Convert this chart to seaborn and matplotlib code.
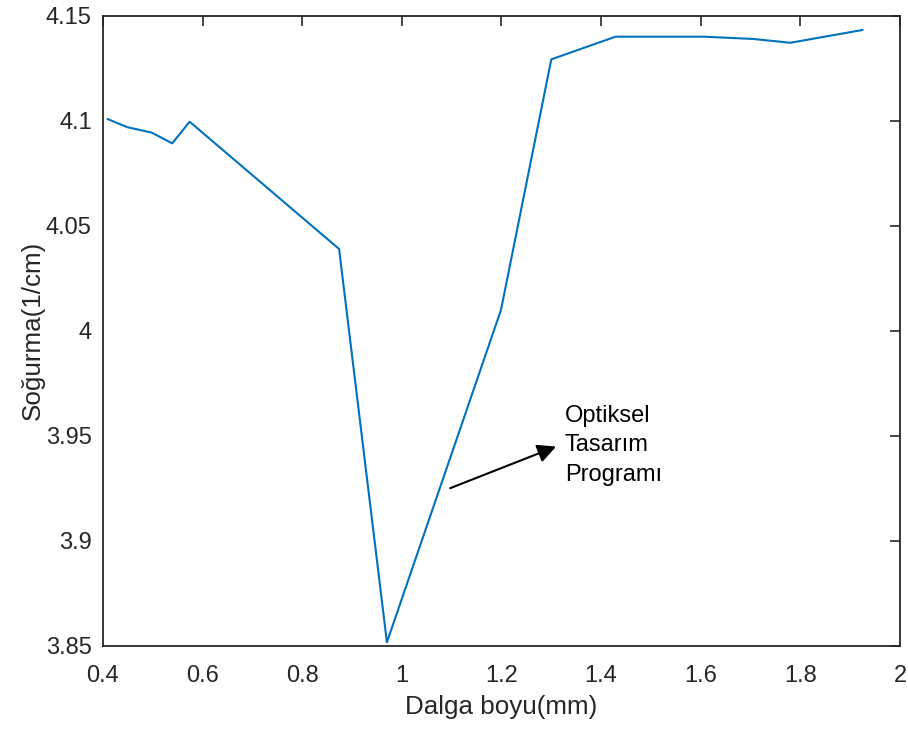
import matplotlib
matplotlib.use("Agg")
import matplotlib.pyplot as plt
import seaborn as sns
import pandas as pd

# values
wavelength = [0.409, 0.449, 0.498, 0.539, 0.574, 0.874, 0.970, 1.199, 1.300,
              1.429, 1.606, 1.706, 1.780, 1.925]
absorption = [4.1008, 4.0969, 4.0943, 4.0892, 4.0995, 4.0389, 3.8516, 4.0099,
              4.1292, 4.1400, 4.1400, 4.1389, 4.1371, 4.1432]
x_ticks = [0.4, 0.6, 0.8, 1.0, 1.2, 1.4, 1.6, 1.8, 2.0]
x_tick_labels = ["0.4", "0.6", "0.8", "1", "1.2", "1.4", "1.6", "1.8", "2"]
y_ticks = [3.85, 3.9, 3.95, 4.0, 4.05, 4.1, 4.15]
y_tick_labels = ["3.85", "3.9", "3.95", "4", "4.05", "4.1", "4.15"]
note_text = "Optiksel\nTasarım\nProgramı"

df = pd.DataFrame({"wl": wavelength, "abs": absorption})

sns.set_style("white")
plt.rcParams["font.family"] = ["Liberation Sans", "DejaVu Sans"]

fig = plt.figure(figsize=(9.08, 7.29), dpi=100)
ax = fig.add_axes([0.1134, 0.1143, 0.8778, 0.8642])

sns.lineplot(data=df, x="wl", y="abs", ax=ax, color="#0072BD", linewidth=1.5,
             sort=False)

ax.set_xlim(0.4, 2.0)
ax.set_ylim(3.85, 4.15)
ax.set_xticks(x_ticks)
ax.set_xticklabels(x_tick_labels)
ax.set_yticks(y_ticks)
ax.set_yticklabels(y_tick_labels)

ax.tick_params(direction="in", length=7, width=1.2, top=True, right=True,
               labelsize=17, colors="#262626")
ax.tick_params(axis="x", pad=14)
ax.tick_params(axis="y", pad=8)
for s in ax.spines.values():
    s.set_visible(True)
    s.set_color("#262626")
    s.set_linewidth(1.3)

ax.set_xlabel("Dalga boyu(mm)", fontsize=18.7, color="#262626", labelpad=6)
ax.set_ylabel("Soğurma(1/cm)", fontsize=18.7, color="#262626", labelpad=0.5)

ax.annotate("", xy=(1.3096, 3.9448), xytext=(1.097, 3.925),
            arrowprops=dict(arrowstyle="-|>", color="black", lw=1.5,
                            mutation_scale=28, shrinkA=0, shrinkB=0))
ax.text(1.327, 3.9648, note_text, fontsize=17, color="black",
        va="top", ha="left", linespacing=1.45)

fig.savefig("out.png", dpi=100)
